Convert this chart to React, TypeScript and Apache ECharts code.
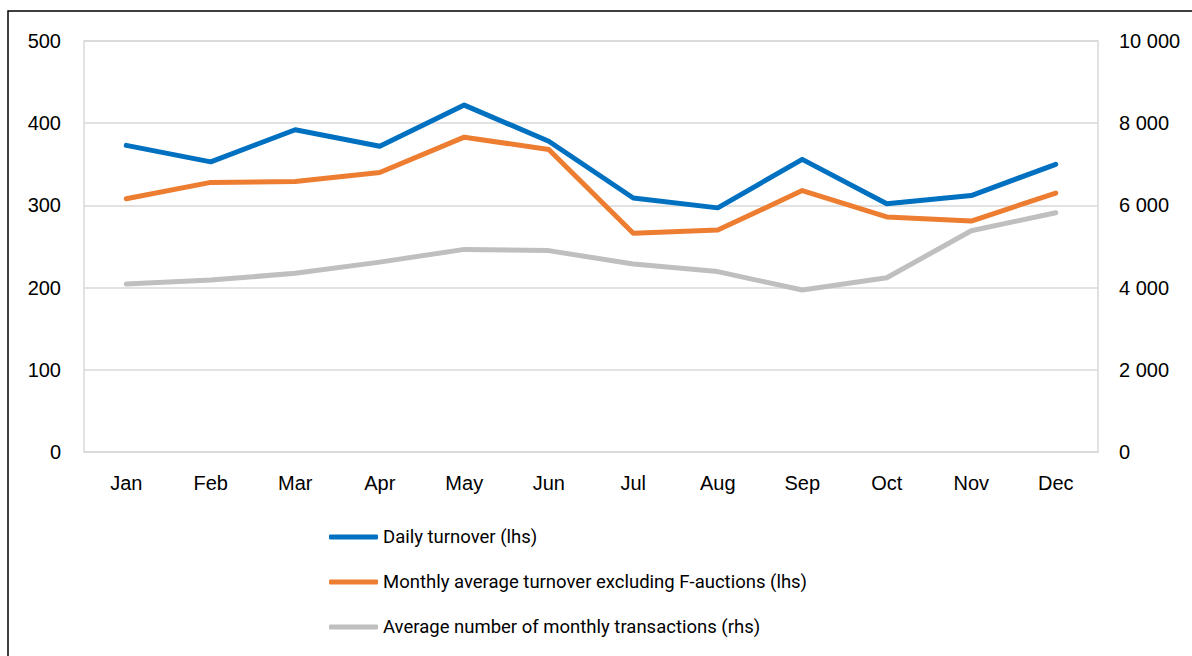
import React, { useEffect, useRef } from "react";
import * as echarts from "echarts";

const months = ["Jan", "Feb", "Mar", "Apr", "May", "Jun", "Jul", "Aug", "Sep", "Oct", "Nov", "Dec"];
const dailyTurnover = [373, 353, 392, 372, 422, 378, 309, 297, 356, 302, 312, 350];
const monthlyExclF = [308, 328, 329, 340, 383, 368, 266, 270, 318, 286, 281, 315];
const avgTransactions = [4086, 4183, 4347, 4620, 4930, 4900, 4573, 4390, 3940, 4240, 5383, 5821];

const seriesNames = [
  "Daily turnover (lhs)",
  "Monthly average turnover excluding F-auctions (lhs)",
  "Average number of monthly transactions (rhs)",
];
const colors = ["#0070C0", "#ED7D31", "#BFBFBF"];

const axisFont = "'Liberation Sans', Arial, sans-serif";
const legendFont = "Roboto, sans-serif";

export default function App() {
  const ref = useRef<HTMLDivElement>(null);
  useEffect(() => {
    if (!ref.current) return;
    const chart = echarts.init(ref.current, undefined, { renderer: "svg" });
    const mkLine = (name: string, data: number[], color: string, yAxisIndex: number) => ({
      name,
      type: "line",
      data,
      yAxisIndex,
      showSymbol: false,
      symbol: "none",
      lineStyle: { color, width: 5, cap: "round", join: "round" },
      itemStyle: { color },
    });
    chart.setOption({
      animation: false,
      backgroundColor: "#ffffff",
      graphic: [
        {
          type: "rect",
          shape: { x: 8, y: 11, width: 1300, height: 800 },
          style: { fill: "none", stroke: "#000000", lineWidth: 1.5 },
          silent: true,
          z: 100,
        },
      ],
      grid: {
        left: 84,
        right: 94,
        top: 41,
        bottom: 204,
        show: true,
        borderColor: "#D9D9D9",
        borderWidth: 1.5,
      },
      legend: {
        orient: "vertical",
        left: 324,
        top: 522,
        itemWidth: 49,
        itemHeight: 5,
        itemGap: 25,
        icon: "roundRect",
        data: seriesNames,
        textStyle: { fontFamily: legendFont, fontSize: 18.5, color: "#000", lineHeight: 20 },
      },
      xAxis: {
        type: "category",
        data: months,
        boundaryGap: true,
        axisLine: { show: true, lineStyle: { color: "#D9D9D9", width: 1.5 } },
        axisTick: { show: false },
        axisLabel: { fontFamily: axisFont, fontSize: 20, color: "#000", margin: 21 },
      },
      yAxis: [
        {
          type: "value",
          min: 0,
          max: 500,
          interval: 100,
          axisLine: { show: false },
          axisTick: { show: false },
          splitLine: { show: true, lineStyle: { color: "#D9D9D9", width: 1.5 } },
          axisLabel: { fontFamily: axisFont, fontSize: 20, color: "#000", margin: 23 },
        },
        {
          type: "value",
          min: 0,
          max: 10000,
          interval: 2000,
          axisLine: { show: false },
          axisTick: { show: false },
          splitLine: { show: false },
          axisLabel: {
            fontFamily: axisFont,
            fontSize: 20,
            color: "#000",
            margin: 21,
            formatter: (v: number) => String(v).replace(/\B(?=(\d{3})+(?!\d))/g, " "),
          },
        },
      ],
      series: [
        mkLine(seriesNames[0], dailyTurnover, colors[0], 0),
        mkLine(seriesNames[1], monthlyExclF, colors[1], 0),
        mkLine(seriesNames[2], avgTransactions, colors[2], 1),
      ],
    });
    return () => chart.dispose();
  }, []);
  return (
    <div
      ref={ref}
      style={{ position: "absolute", left: 0, top: 0, width: 1192, height: 656 }}
    />
  );
}
